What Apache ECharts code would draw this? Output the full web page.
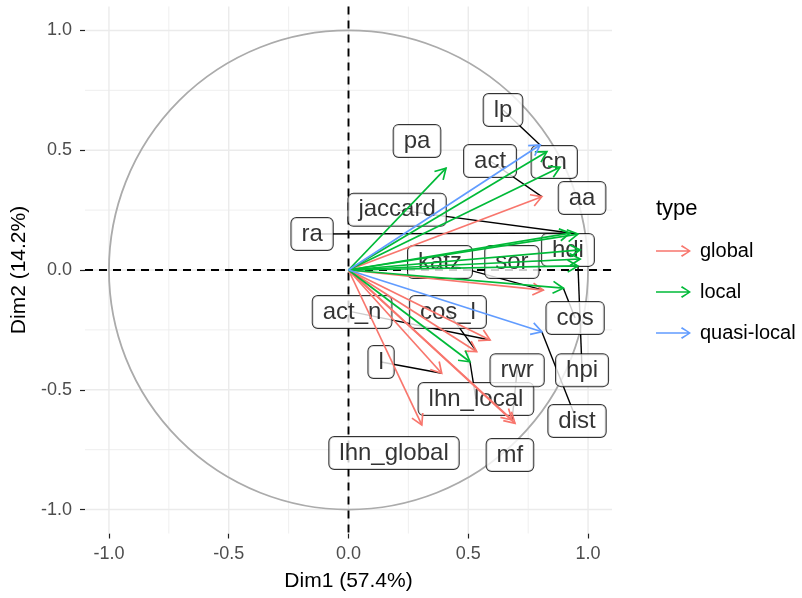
<!DOCTYPE html>
<html><head><meta charset="utf-8">
<script src="https://cdn.jsdelivr.net/npm/echarts@6/dist/echarts.min.js"></script>
<style>html,body{margin:0;padding:0;background:#fff}#c{width:802px;height:598px}</style>
</head><body><div id="c"></div><script>
// ---- data ----
const names = ['lp','pa','act','cn','aa','jaccard','ra','katz','sor','hdi','hpi','cos','dist','act_n','cos_l','l','lhn_local','rwr','lhn_global','mf'];
const types = ['quasi-local','local','global','local','local','local','local','global','local','local','local','local','quasi-local','global','global','global','local','global','global','global'];
const dim1 = [0.800,0.407,0.807,0.828,0.883,0.958,0.925,0.813,0.967,0.967,0.958,0.897,0.807,0.591,0.535,0.389,0.507,0.683,0.306,0.695];
const dim2 = [0.522,0.425,0.306,0.494,0.429,0.150,0.154,-0.084,0.046,0.084,0.017,-0.076,-0.258,-0.292,-0.341,-0.431,-0.383,-0.626,-0.647,-0.640];
const typeNames = ['global','local','quasi-local'];
const tickValues = [-1, -0.5, 0, 0.5, 1];
const minorValues = [-0.75, -0.25, 0.25, 0.75];
const xTitle = 'Dim1 (57.4%)';
const yTitle = 'Dim2 (14.2%)';
const legendTitle = 'type';

// ---- layout (repelled label anchors, in axis units) ----
const labelX = [0.645,0.286,0.591,0.859,0.975,0.203,-0.152,0.382,0.682,0.916,0.975,0.946,0.954,0.015,0.415,0.136,0.532,0.704,0.190,0.674];
const labelY = [0.668,0.539,0.455,0.451,0.301,0.251,0.150,0.033,0.033,0.084,-0.418,-0.200,-0.630,-0.175,-0.175,-0.384,-0.539,-0.418,-0.764,-0.772];
const hasSegment = [1,0,1,0,0,1,1,1,1,0,1,1,1,1,1,1,1,1,0,0];

// ---- styles ----
const typeColors = {'global':'#F8766D','local':'#00BA38','quasi-local':'#619CFF'};
const FONT = '"Liberation Sans", Arial, sans-serif';

const chart = echarts.init(document.getElementById('c'), null, {renderer:'canvas'});

function gridRender(params, api) {
  const cs = params.coordSys;
  const ch = [];
  const add = (v, major) => {
    const px = api.coord([v, 0])[0];
    const py = api.coord([0, v])[1];
    const st = {stroke: '#ebebeb', lineWidth: major ? 1.4 : 0.8};
    ch.push({type:'line', shape:{x1:px, y1:cs.y, x2:px, y2:cs.y+cs.height}, style:st});
    ch.push({type:'line', shape:{x1:cs.x, y1:py, x2:cs.x+cs.width, y2:py}, style:st});
  };
  minorValues.forEach(v => add(v, false));
  tickValues.forEach(v => add(v, true));
  const o = api.coord([0,0]);
  const r = api.size([1,1]);
  ch.push({type:'circle', shape:{cx:o[0], cy:o[1], r:(r[0]+r[1])/2}, style:{stroke:'#ababab', lineWidth:1.8, fill:null}});
  const ds = {stroke:'#000', lineWidth:1.9, lineDash:[8,6]};
  ch.push({type:'line', shape:{x1:o[0], y1:cs.y, x2:o[0], y2:cs.y+cs.height}, style:ds});
  ch.push({type:'line', shape:{x1:cs.x, y1:o[1], x2:cs.x+cs.width, y2:o[1]}, style:ds});
  return {type:'group', children: ch};
}

function arrowRender(params, api) {
  const t = api.coord([api.value(0), api.value(1)]);
  const o = api.coord([0, 0]);
  const ang = Math.atan2(t[1]-o[1], t[0]-o[0]);
  const L = 12, a = Math.PI/6;
  const p1 = [t[0]-L*Math.cos(ang-a), t[1]-L*Math.sin(ang-a)];
  const p2 = [t[0]-L*Math.cos(ang+a), t[1]-L*Math.sin(ang+a)];
  const color = api.visual('color');
  return {type:'group', children:[
    {type:'line', shape:{x1:o[0], y1:o[1], x2:t[0], y2:t[1]}, style:{stroke:color, lineWidth:1.7}},
    {type:'polyline', shape:{points:[p1, t, p2]}, style:{stroke:color, lineWidth:1.7, fill:null}}
  ]};
}

function segRender(params, api) {
  const a = api.coord([api.value(0), api.value(1)]);
  const b = api.coord([api.value(2), api.value(3)]);
  return {type:'line', shape:{x1:a[0], y1:a[1], x2:b[0], y2:b[1]}, style:{stroke:'#000', lineWidth:1.4}};
}

const arrowSeries = typeNames.map(tn => ({
  name: tn, type:'custom', renderItem: arrowRender, z: 6,
  itemStyle: {color: typeColors[tn]},
  data: names.map((n,i) => types[i] === tn ? [dim1[i], dim2[i], n] : null).filter(d => d),
  silent: true
}));

const segData = [];
names.forEach((n,i) => { if (hasSegment[i]) segData.push([labelX[i], labelY[i], dim1[i], dim2[i]]); });

const arrowIcon = 'path://M0,5.3 L27,5.3 L21.4,2.1 L22.3,0.9 L30,6 L22.3,11.1 L21.4,9.9 L27,6.7 L0,6.7 Z';

chart.setOption({
  animation: false,
  textStyle: {fontFamily: FONT},
  title: {text: legendTitle, left: 651, top: 193, textStyle:{fontSize:22, fontWeight:'normal', color:'#000', fontFamily: FONT}},
  legend: {
    orient:'vertical', left: 651, top: 236, itemWidth: 35, itemHeight: 13, itemGap: 21,
    icon: arrowIcon, data: typeNames, selectedMode: false,
    textStyle: {fontSize: 20, color:'#000', fontFamily: FONT, padding:[0,0,0,4]}
  },
  grid: {left: 85, right: 190, top: 6.5, bottom: 64.5},
  xAxis: {
    type:'value', min:-1.1, max:1.1,
    splitLine:{show:false}, axisLine:{show:false, onZero:false},
    axisTick:{show:true, length:5, customValues: tickValues, lineStyle:{color:'#222', width:1.2}},
    axisLabel:{customValues: tickValues, formatter: v => v.toFixed(1), color:'#4d4d4d', fontSize:18, margin:12, fontFamily: FONT},
    name: xTitle, nameLocation:'middle', nameGap: 37,
    nameTextStyle:{fontSize:21, color:'#000', fontFamily: FONT}
  },
  yAxis: {
    type:'value', min:-1.1, max:1.1,
    splitLine:{show:false}, axisLine:{show:false, onZero:false},
    axisTick:{show:true, length:5, customValues: tickValues, lineStyle:{color:'#222', width:1.2}},
    axisLabel:{customValues: tickValues, formatter: v => v.toFixed(1), color:'#4d4d4d', fontSize:18, margin:13, fontFamily: FONT},
    name: yTitle, nameLocation:'middle', nameGap: 47, nameRotate: 90,
    nameTextStyle:{fontSize:21, color:'#000', fontFamily: FONT}
  },
  series: [
    {type:'custom', name:'_grid', renderItem: gridRender, data:[[0,0]], z:1, silent:true},
    {type:'custom', name:'_seg', renderItem: segRender, data: segData, z:2, silent:true},
    {type:'scatter', name:'_labels', z:3, symbolSize: 1, itemStyle:{color:'rgba(0,0,0,0)'}, silent:true,
      data: names.map((n,i) => ({value:[labelX[i], labelY[i]], name:n})),
      label:{show:true, position:'inside', formatter: p => p.name, fontSize:24, color:'#000',
        fontFamily: FONT, backgroundColor:'#fff', borderColor:'#000', borderWidth:1, borderRadius:5,
        padding:[4,10], lineHeight:24}
    },
    ...arrowSeries
  ]
});
</script></body></html>
